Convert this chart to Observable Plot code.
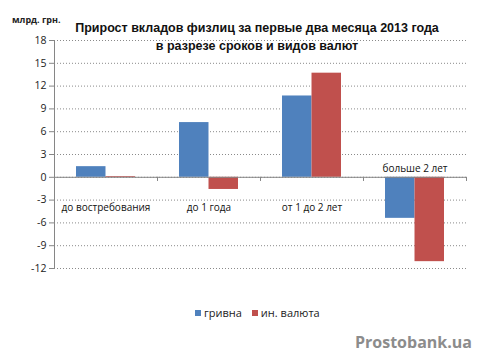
<!DOCTYPE html>
<html><head><meta charset="utf-8">
<script src="https://cdn.jsdelivr.net/npm/d3@7"></script>
<script src="https://cdn.jsdelivr.net/npm/@observablehq/plot@0.6"></script>
<style>
html,body{margin:0;padding:0;background:#fff;}
#wrap{position:relative;width:480px;height:355px;overflow:hidden;font-family:"Open Sans",sans-serif;}
#wrap svg{position:absolute;left:0;top:0;}
.t{position:absolute;white-space:nowrap;}
</style></head>
<body>
<div id="wrap">
</div>
<script>
const categories = ["до востребования", "до 1 года", "от 1 до 2 лет", "больше 2 лет"];
const hryvnia = [1.4, 7.2, 10.7, -5.4];
const foreign = [0.1, -1.6, 13.7, -11.1];
const seriesNames = ["гривна", "ин. валюта"];
const yTicks = [-12, -9, -6, -3, 0, 3, 6, 9, 12, 15, 18];
const titleLines = ["Прирост вкладов физлиц за первые два месяца 2013 года", "в разрезе сроков и видов валют"];
const unitLabel = "млрд. грн.";
const watermark = "Prostobank.ua";

const colors = ["#4F81BD", "#C0504D"];
const data = categories.map((c, i) => ({cat: c, h: hryvnia[i], f: foreign[i]}));
const step = (466 - 54) / categories.length;
const half = step * (1 - 0.427) / 2;

const chart = Plot.plot({
  width: 480, height: 355,
  marginLeft: 54, marginRight: 14, marginTop: 40, marginBottom: 87,
  style: {fontFamily: "'Open Sans', sans-serif", fontSize: "10px", color: "#222", background: "transparent"},
  x: {domain: categories, paddingInner: 0.427, paddingOuter: 0.2135, axis: null},
  y: {domain: [-12, 18], axis: null},
  marks: [
    Plot.gridY(yTicks, {stroke: "#8a8a8a", strokeOpacity: 1, strokeDasharray: "1,2"}),
    Plot.barY(data, {x: "cat", y: "h", fill: colors[0], insetRight: half}),
    Plot.barY(data, {x: "cat", y: "f", fill: colors[1], insetLeft: half}),
    Plot.ruleY([0], {stroke: "#868686"}),
    Plot.ruleX(categories, {x: d => d, y1: 0, y2: -0.55, dx: step / 2, stroke: "#868686"}),
    Plot.ruleX([categories[0]], {x: d => d, y1: -12, y2: 18, dx: -step / 2, stroke: "#868686"}),
    Plot.axisY(yTicks, {tickSize: 5, tickPadding: 3, stroke: "#868686", fill: "#222", fontSize: 10.5, tickFormat: d => String(d)}),
    Plot.text(data, {x: "cat", y: 0, text: "cat", fill: "#111", fontSize: 10,
      filter: (d, i) => i < categories.length - 1, dy: 30}),
    Plot.text(data, {x: "cat", y: 0, text: "cat", fill: "#111", fontSize: 10,
      filter: (d, i) => i === categories.length - 1, dy: -9})
  ]
});
const wrap = document.getElementById("wrap");
wrap.appendChild(chart);

function addText(txt, css) {
  const d = document.createElement("div");
  d.className = "t";
  d.textContent = txt;
  Object.assign(d.style, css);
  wrap.appendChild(d);
  return d;
}
addText(unitLabel, {left: "12px", top: "13px", fontSize: "9px", fontWeight: "bold", color: "#222"});
addText(titleLines[0], {left: "0", width: "514px", textAlign: "center", top: "21px", fontSize: "12.5px", fontWeight: "bold", color: "#111", fontFamily: "'Liberation Sans', sans-serif"});
addText(titleLines[1], {left: "0", width: "514px", textAlign: "center", top: "39px", fontSize: "12.5px", fontWeight: "bold", color: "#111", fontFamily: "'Liberation Sans', sans-serif"});
// legend
const leg = document.createElement("div");
leg.className = "t";
Object.assign(leg.style, {left: "195px", top: "305px", fontSize: "11px", color: "#222", display: "flex", alignItems: "center"});
seriesNames.forEach((n, i) => {
  const sw = document.createElement("span");
  Object.assign(sw.style, {display: "inline-block", width: "6px", height: "6px", background: colors[i], marginRight: "3px"});
  const tx = document.createElement("span");
  tx.textContent = n;
  tx.style.marginRight = "10px";
  leg.appendChild(sw); leg.appendChild(tx);
});
wrap.appendChild(leg);
addText(watermark, {right: "8px", top: "331px", fontSize: "16px", fontWeight: "bold", color: "#8c8c8c"});
</script>
</body></html>
